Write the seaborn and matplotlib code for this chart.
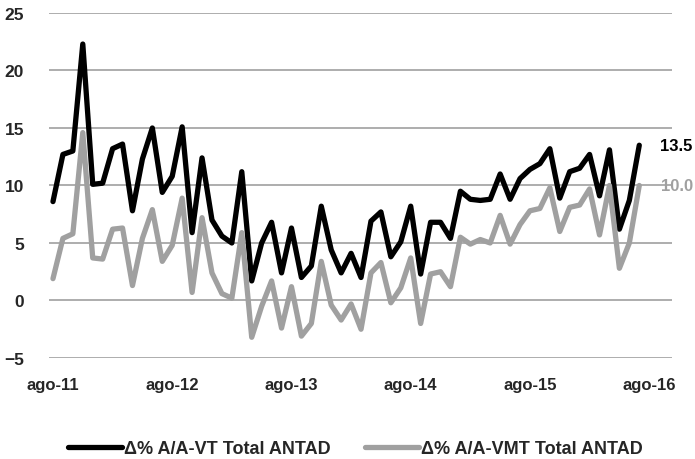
import pandas as pd
import matplotlib.pyplot as plt
import seaborn as sns

# monthly y/y change, ago-11 .. jul-16
vt = [8.6, 12.7, 13.0, 22.3, 10.1, 10.2, 13.2, 13.6, 7.8, 12.3, 15.0, 9.4, 10.8,
      15.1, 5.9, 12.4, 7.0, 5.6, 5.0, 11.2, 1.7, 5.0, 6.8, 2.4, 6.3,
      2.0, 3.0, 8.2, 4.4, 2.4, 4.1, 2.0, 6.9, 7.7, 3.8, 5.1, 8.2, 2.3,
      6.8, 6.8, 5.4, 9.5, 8.8, 8.7, 8.8, 11.0, 8.8, 10.6, 11.4, 11.9, 13.2,
      8.9, 11.2, 11.5, 12.7, 9.1, 13.1, 6.2, 8.7, 13.5]
vmt = [1.9, 5.4, 5.8, 14.6, 3.7, 3.6, 6.2, 6.3, 1.3, 5.4, 7.9, 3.4, 4.8,
       8.9, 0.7, 7.2, 2.4, 0.6, 0.2, 5.9, -3.2, -0.5, 1.7, -2.4, 1.2,
       -3.1, -2.0, 3.4, -0.4, -1.7, -0.3, -2.5, 2.4, 3.3, -0.2, 1.1, 3.7, -2.0,
       2.3, 2.5, 1.2, 5.5, 4.9, 5.3, 5.0, 7.4, 4.9, 6.6, 7.8, 8.0, 9.8,
       6.0, 8.1, 8.3, 9.7, 5.7, 10.0, 2.8, 5.0, 10.0]
tick_labels = ['ago-11', 'ago-12', 'ago-13', 'ago-14', 'ago-15', 'ago-16']
tick_pos = [0, 12, 24, 36, 48, 60]
serie_vt = 'Δ% A/A-VT Total ANTAD'
serie_vmt = 'Δ% A/A-VMT Total ANTAD'

df = pd.DataFrame({'mes': range(len(vt)), serie_vt: vt, serie_vmt: vmt})
df = df.melt(id_vars='mes', var_name='serie', value_name='valor')

sns.set_style('white')
plt.rcParams['font.family'] = ['Liberation Sans', 'DejaVu Sans']
plt.rcParams['font.weight'] = 'bold'

fig = plt.figure(figsize=(6.95, 4.6), dpi=100)
ax = fig.add_axes([0.0705, 0.2196, 0.8965, 0.75])

colores = {serie_vt: '#000000', serie_vmt: '#a0a0a0'}
ax = sns.lineplot(data=df, x='mes', y='valor', hue='serie', palette=colores,
                  linewidth=3.8, ax=ax, solid_joinstyle='round', solid_capstyle='round')

ax.set_ylim(-5, 25)
ax.set_xlim(-0.4, 62.3)
ax.set_yticks(range(-5, 26, 5))
ax.set_xticks(tick_pos)
ax.set_xticklabels(tick_labels)
ax.yaxis.grid(True, color='#a0a0a0', linewidth=1.2)
ax.set_axisbelow(True)
for s in ax.spines.values():
    s.set_visible(False)
ax.tick_params(axis='both', length=0)
ax.tick_params(axis='x', pad=14, labelsize=12)
ax.tick_params(axis='y', pad=18, labelsize=12.5)
ax.set_xlabel('')
ax.set_ylabel('')

n = len(vt) - 1
ax.annotate(f'{vt[-1]:.1f}', (n, vt[-1]), xytext=(15, 0), textcoords='offset points',
            va='center', ha='left', fontsize=12, fontweight='bold', color='#000000')
ax.annotate(f'{vmt[-1]:.1f}', (n, vmt[-1]), xytext=(16, 0), textcoords='offset points',
            va='center', ha='left', fontsize=12, fontweight='bold', color='#a0a0a0')

ax.legend(loc='center', bbox_to_anchor=(0.511, 0.022), bbox_transform=fig.transFigure,
          ncol=2, frameon=False, fontsize=13, handlelength=3.0, handletextpad=0.1,
          columnspacing=1.9, title=None)

fig.savefig('out.png', dpi=100)
